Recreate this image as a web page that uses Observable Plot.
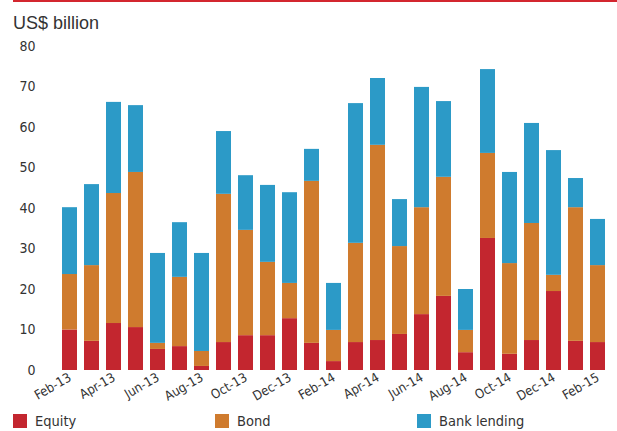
<!DOCTYPE html>
<html>
<head>
<meta charset="utf-8">
<script src="https://cdn.jsdelivr.net/npm/d3@7"></script>
<script src="https://cdn.jsdelivr.net/npm/@observablehq/plot@0.6"></script>
<style>
  html, body { margin: 0; padding: 0; background: #fff; }
  #wrap { position: relative; width: 617px; height: 431px; overflow: hidden; }
  #topline { position: absolute; left: 13px; top: 0; width: 604px; height: 2px; background: #d3262f; }
  #title { position: absolute; left: 13px; top: 14px; font-family: "Liberation Sans", Arial, sans-serif; font-size: 18px; line-height: 18px; color: #333; }
  #chart { position: absolute; left: 0; top: 0; }
  .legend { position: absolute; top: 413px; display: flex; align-items: center; font-family: "Liberation Sans Narrow", "Arial Narrow", "DejaVu Sans Condensed", sans-serif; font-size: 14.5px; color: #333; }
  .legend .sw { width: 14px; height: 14px; margin-right: 8px; }
</style>
</head>
<body>
<div id="wrap">
  <div id="chart"></div>
  <div id="topline"></div>
  <div id="title">US$ billion</div>
  <div id="legend"></div>
</div>
<script>
const months = ["Feb-13","Mar-13","Apr-13","May-13","Jun-13","Jul-13","Aug-13","Sep-13","Oct-13","Nov-13","Dec-13","Jan-14",
                "Feb-14","Mar-14","Apr-14","May-14","Jun-14","Jul-14","Aug-14","Sep-14","Oct-14","Nov-14","Dec-14","Jan-15","Feb-15"];
const equity = [10.0, 7.2, 11.6, 10.6, 5.2, 5.9, 1.0, 6.9, 8.6, 8.6, 12.8, 6.7,
                2.2, 6.9, 7.4, 8.9, 13.8, 18.3, 4.4, 32.6, 4.0, 7.4, 19.5, 7.2, 6.9];
const bond   = [13.7, 18.7, 32.1, 38.3, 1.5, 17.1, 3.7, 36.6, 26.0, 18.1, 8.7, 40.0,
                7.7, 24.5, 48.2, 21.7, 26.4, 29.4, 5.5, 21.0, 22.4, 28.9, 4.0, 33.0, 19.0];
const bank   = [16.5, 20.0, 22.5, 16.5, 22.2, 13.5, 24.2, 15.5, 13.5, 19.0, 22.4, 7.9,
                11.6, 34.5, 16.5, 11.6, 29.7, 18.7, 10.1, 20.7, 22.5, 24.7, 30.8, 7.2, 11.4];
const seriesNames = ["Equity", "Bond", "Bank lending"];
const seriesColors = ["#c3262f", "#cf7b2e", "#2c9ac7"];
const xTickLabels = ["Feb-13","Apr-13","Jun-13","Aug-13","Oct-13","Dec-13","Feb-14","Apr-14","Jun-14","Aug-14","Oct-14","Dec-14","Feb-15"];
const yTicks = [0, 10, 20, 30, 40, 50, 60, 70, 80];

const seriesValues = [equity, bond, bank];
const rows = [];
seriesNames.forEach((s, si) => {
  months.forEach((m, i) => rows.push({month: m, series: s, value: seriesValues[si][i]}));
});

const narrow = '"Liberation Sans Narrow", "Arial Narrow", "DejaVu Sans Condensed", sans-serif';

const chart = Plot.plot({
  width: 617,
  height: 405,
  marginTop: 46,
  marginBottom: 35,
  marginLeft: 52,
  marginRight: 1,
  style: { fontFamily: narrow, fontSize: "14px", color: "#333", background: "transparent" },
  x: { type: "band", domain: months, paddingInner: 0.3, paddingOuter: 0.1, axis: null, label: null },
  y: { domain: [0, 80], axis: null, label: null },
  color: { domain: seriesNames, range: seriesColors },
  marks: [
    Plot.barY(rows, Plot.stackY({ x: "month", y: "value", fill: "series", order: seriesNames })),
    Plot.axisY({ ticks: yTicks, tickSize: 0, tickPadding: 17, fontSize: 14, fill: "#333", label: null }),
    Plot.axisX({ ticks: xTickLabels, tickSize: 0, tickPadding: 6, tickRotate: -30, fontSize: 13, fill: "#333", label: null })
  ]
});
document.getElementById("chart").appendChild(chart);

const legend = document.getElementById("legend");
const legendLeft = [13, 215, 417];
seriesNames.forEach((s, i) => {
  const item = document.createElement("div");
  item.className = "legend";
  item.style.left = legendLeft[i] + "px";
  const sw = document.createElement("div");
  sw.className = "sw";
  sw.style.background = seriesColors[i];
  const t = document.createElement("span");
  t.textContent = s;
  item.appendChild(sw);
  item.appendChild(t);
  legend.appendChild(item);
});
</script>
</body>
</html>
